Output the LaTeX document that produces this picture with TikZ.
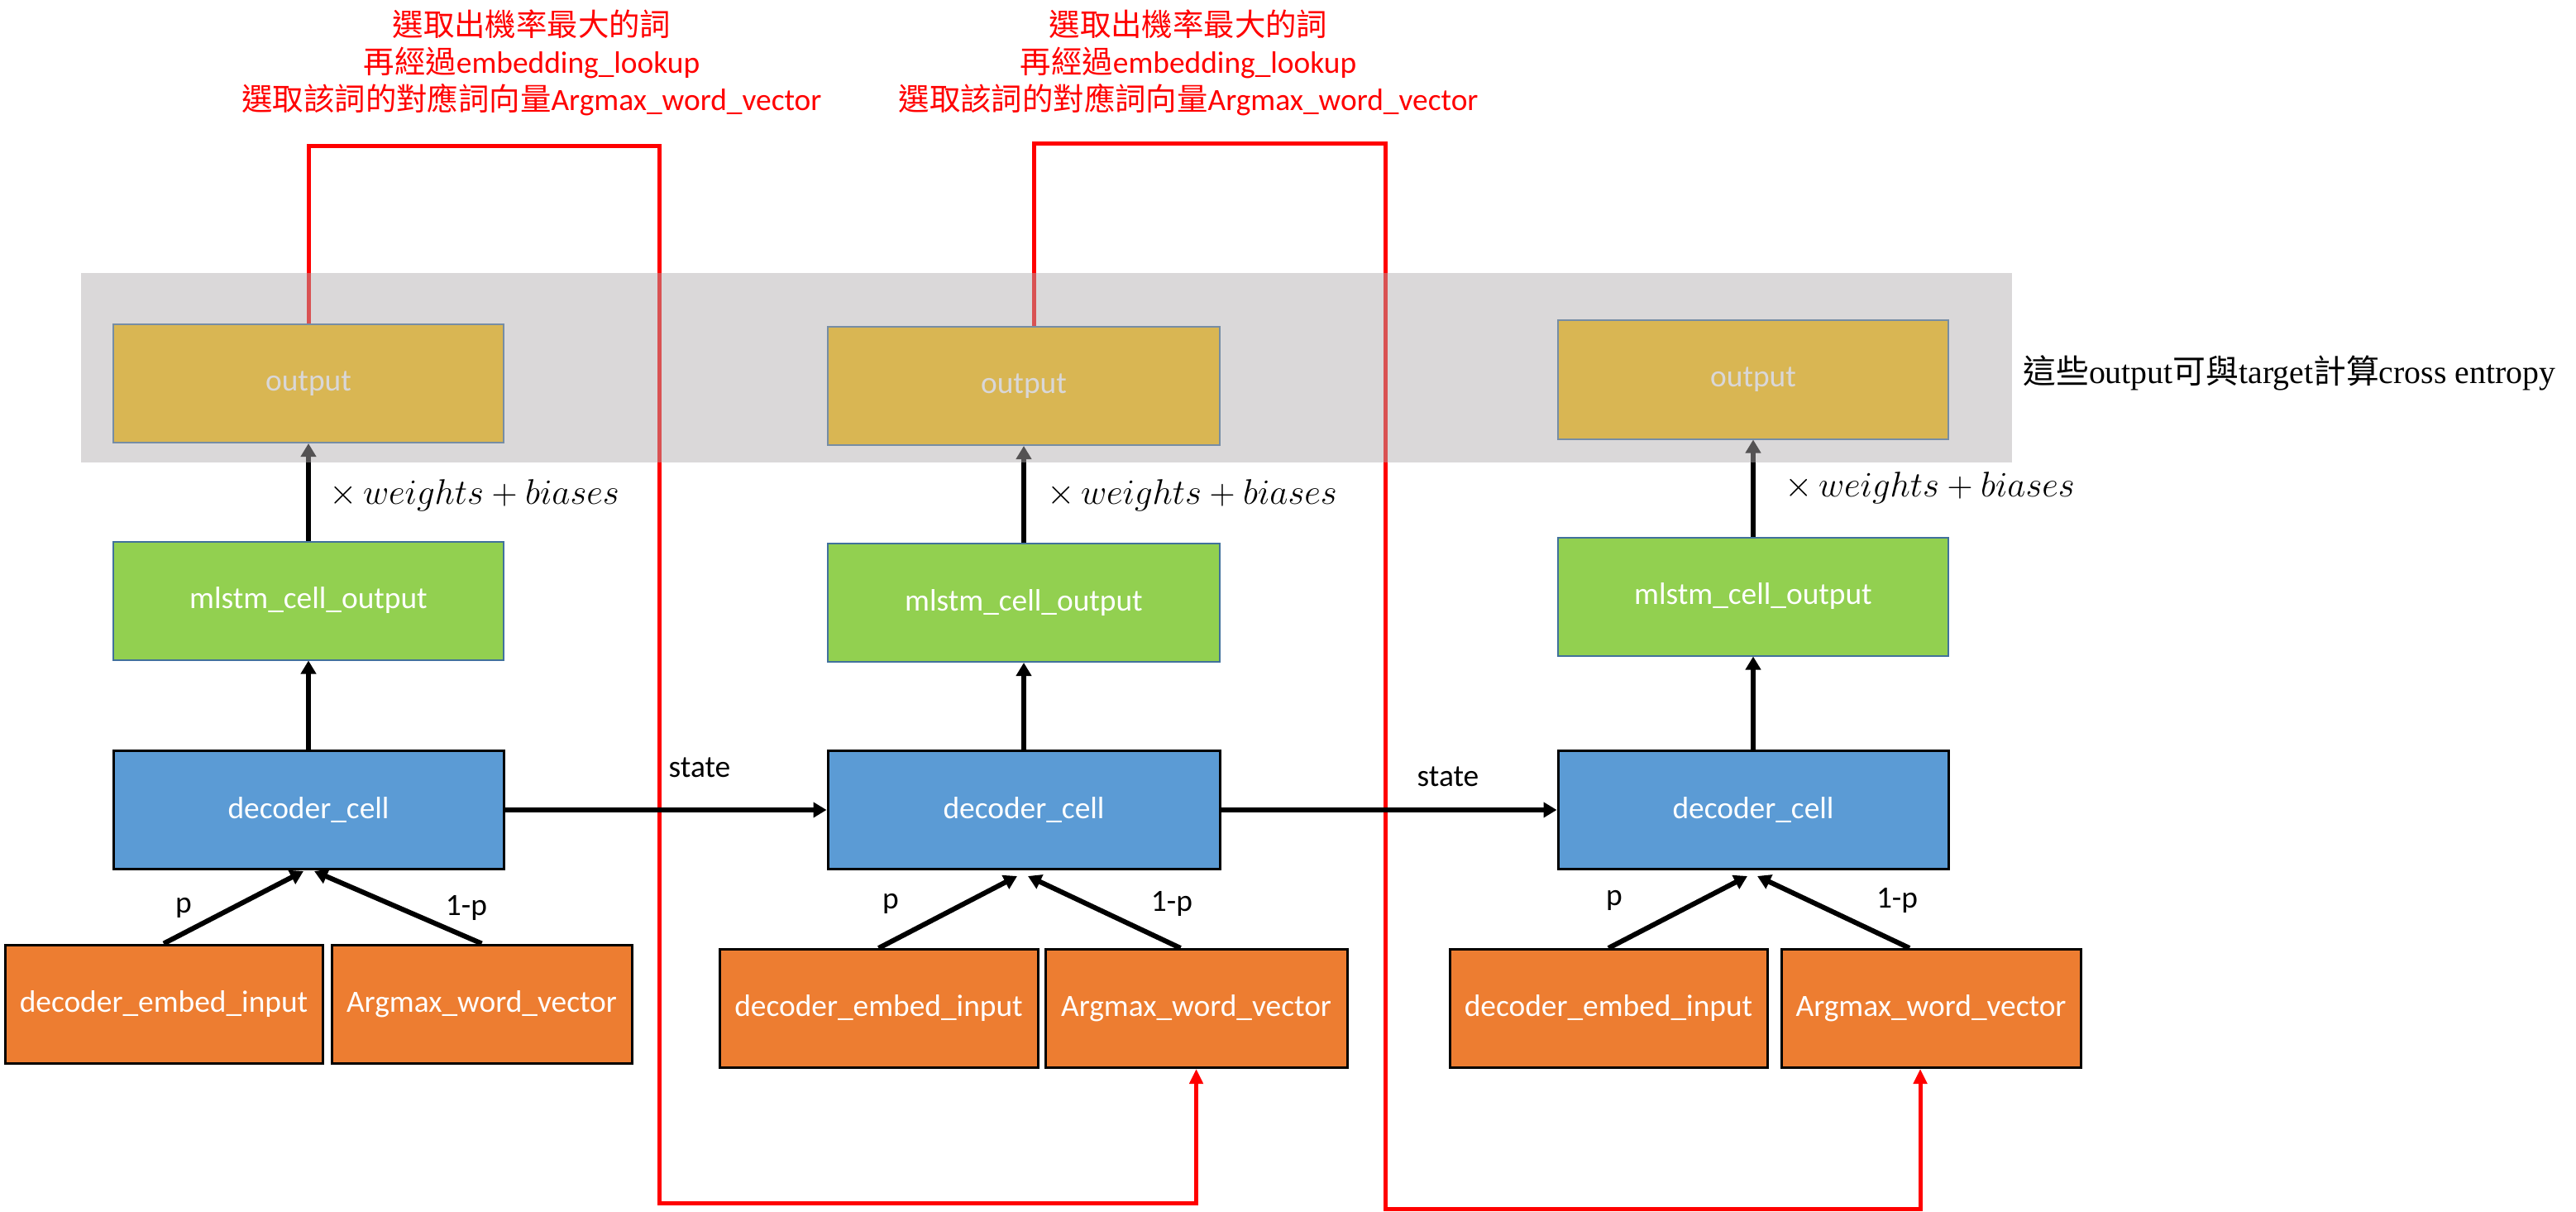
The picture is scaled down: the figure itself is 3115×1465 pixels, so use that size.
\RequirePackage{fix-cm}
\documentclass[tikz,border=0pt]{standalone}
\usepackage{fontspec}
\setmainfont{Carlito}
\newfontfamily\cjkfont{Noto Sans CJK TC}
\newfontfamily\serifnote{Liberation Serif}
\usetikzlibrary{arrows.meta,calc}
\definecolor{goldc}{RGB}{255,192,0}
\definecolor{greenc}{RGB}{146,208,80}
\definecolor{bluec}{RGB}{91,155,213}
\definecolor{orangec}{RGB}{237,125,49}
\definecolor{edgec}{RGB}{65,113,156}
\definecolor{bandc}{RGB}{177,173,175}
\definecolor{redc}{RGB}{255,0,0}
\newcommand\boxfont{\fontsize{18.7}{22.5}\selectfont}
\newcommand\mathlblfont{\fontsize{21.5}{25}\selectfont}
\newcommand\notefont{\fontsize{19.9}{24}\selectfont\serifnote}
\begin{document}
\begin{tikzpicture}[x=0.5pt,y=-0.5pt,
  box/.style={draw, minimum height=71.5pt, inner sep=0pt, font=\boxfont, text=white},
  outbox/.style={box, fill=goldc, draw=edgec, line width=1pt, minimum width=236pt},
  mlbox/.style={box, fill=greenc, draw=edgec, line width=1pt, minimum width=236pt},
  decbox/.style={box, fill=bluec, draw=black, line width=1.5pt, minimum width=236pt},
  inbox/.style={box, fill=orangec, draw=black, line width=1.5pt},
  blk/.style={line width=3pt, -{Triangle[length=8pt,width=9pt]}},
  redline/.style={draw=redc, line width=2.5pt, line join=miter, -{Triangle[length=9pt,width=8pt]}},
  lbl/.style={font=\boxfont, inner sep=0pt},
  mlbl/.style={font=\mathlblfont, inner sep=0pt, anchor=west},
]
\useasboundingbox (0,0) rectangle (3115,1465);

% corner points of the red feedback paths
\coordinate (r1top) at (797,177);
\coordinate (r1bot) at (797,1454);
\coordinate (r2top) at (1675,174);
\coordinate (r2bot) at (1675,1461);

% nodes
\node[outbox] (out1) at (373,463.5) {output};
\node[outbox, minimum width=237pt] (out2) at (1238,466.5) {output};
\node[outbox] (out3) at (2120,459) {output};

\node[mlbox] (ml1) at (373,726) {mlstm\_cell\_output};
\node[mlbox, minimum width=237pt] (ml2) at (1238,728.5) {mlstm\_cell\_output};
\node[mlbox] (ml3) at (2120,721) {mlstm\_cell\_output};

\node[decbox] (dec1) at (373,979) {decoder\_cell};
\node[decbox, minimum width=237pt] (dec2) at (1238,979) {decoder\_cell};
\node[decbox] (dec3) at (2120,979) {decoder\_cell};

\node[inbox, minimum width=192pt] (emb1) at (198,1213.5) {decoder\_embed\_input};
\node[inbox, minimum width=181.5pt] (arg1) at (582.5,1213.5) {Argmax\_word\_vector};
\node[inbox, minimum width=192.5pt] (emb2) at (1062.5,1219) {decoder\_embed\_input};
\node[inbox, minimum width=182.5pt] (arg2) at (1446.5,1219) {Argmax\_word\_vector};
\node[inbox, minimum width=192pt] (emb3) at (1945,1219) {decoder\_embed\_input};
\node[inbox, minimum width=181pt] (arg3) at (2335,1219) {Argmax\_word\_vector};

% red paths
\draw[redline] (out1.north) -- (out1.north |- r1top) -- (r1top) -- (r1bot)
  -- (arg2.south |- r1bot) -- (arg2.south);
\draw[redline] ([xshift=6pt]out2.north) -- ([xshift=6pt]out2.north |- r2top) -- (r2top) -- (r2bot)
  -- ([xshift=-6.5pt]arg3.south |- r2bot) -- ([xshift=-6.5pt]arg3.south);

% black connectors
\draw[blk] (dec1.north) -- (ml1.south);
\draw[blk] (ml1.north) -- (out1.south);
\draw[blk] (dec2.north) -- (ml2.south);
\draw[blk] (ml2.north) -- (out2.south);
\draw[blk] (dec3.north) -- (ml3.south);
\draw[blk] (ml3.north) -- (out3.south);

\draw[blk] (dec1.east) -- (dec2.west);
\draw[blk] (dec2.east) -- (dec3.west);

\draw[blk] (emb1.north) -- ($(dec1.south)+(-6,1)$);
\draw[blk] (arg1.north) -- ($(dec1.south)+(7,1)$);
\draw[blk] (emb2.north) -- ($(dec2.south)+(-8,7)$);
\draw[blk] ([xshift=-9.5pt]arg2.north) -- ($(dec2.south)+(5,7)$);
\draw[blk] (emb3.north) -- ($(dec3.south)+(-7,7)$);
\draw[blk] ([xshift=-13pt]arg3.north) -- ($(dec3.south)+(5,7)$);

% labels
\node[mlbl] (w1) at (398,599) {$\times\, weights+biases$};
\node[mlbl] (w2) at (1266,599) {$\times\, weights+biases$};
\node[mlbl] (w3) at (2158,590) {$\times\, weights+biases$};

\node[lbl] (s1) at (846,928) {state};
\node[lbl] (s2) at (1751,939) {state};

\node[lbl] (p1) at (222,1097) {p};
\node[lbl] (q1) at (564,1097) {1-p};
\node[lbl] (p2) at (1077,1092) {p};
\node[lbl] (q2) at (1417,1092) {1-p};
\node[lbl] (p3) at (1952,1088) {p};
\node[lbl] (q3) at (2294,1088) {1-p};

\node[lbl, text=redc, align=center] (note1) at (643,76)
  {{\cjkfont 選取出機率最大的詞}\\{\cjkfont 再經過}embedding\_lookup\\{\cjkfont 選取該詞的對應詞向量}Argmax\_word\_vector};
\node[lbl, text=redc, align=center] (note2) at (1437,76)
  {{\cjkfont 選取出機率最大的詞}\\{\cjkfont 再經過}embedding\_lookup\\{\cjkfont 選取該詞的對應詞向量}Argmax\_word\_vector};

% translucent band on top
\fill[bandc, fill opacity=0.48] (98,330) rectangle (2433,559);

\node[anchor=west, inner sep=0pt, font=\notefont] (note3) at (2446,451)
  {{\cjkfont 這些}output{\cjkfont 可與}target{\cjkfont 計算}cross entropy};
\end{tikzpicture}
\end{document}
